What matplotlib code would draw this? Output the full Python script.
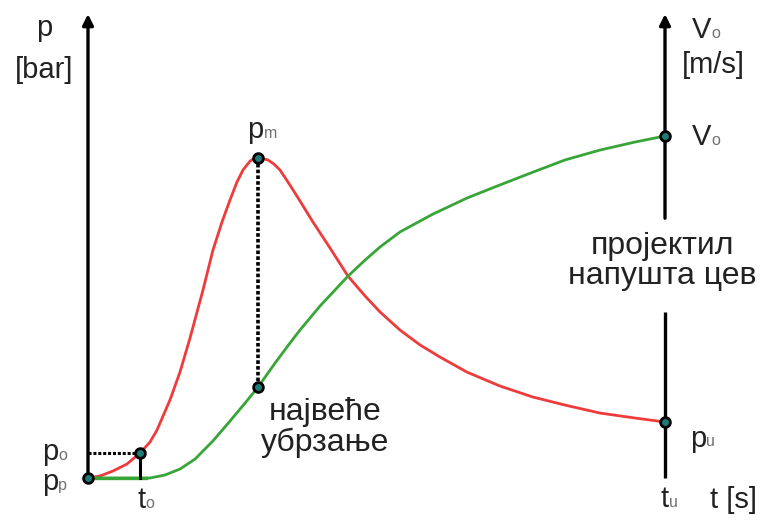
import numpy as np
import matplotlib
matplotlib.use("Agg")
import matplotlib.pyplot as plt

plt.rcParams['font.family'] = ['Liberation Sans', 'DejaVu Sans']

# time axis: 0 = ignition, 100 = projectile leaves the barrel
t_red = [0, 2.08, 4.33, 6.76, 9.01, 10.75, 11.96, 14.21, 15.94, 17.68, 19.93, 21.66,
         23.22, 24.61, 25.82, 26.86, 28.08, 28.77, 29.46, 30.33, 31.2, 32.24, 33.28,
         34.66, 36.22, 38.99, 41.94, 45.06, 48.01, 50.61, 54.07, 57.54, 61.01, 65.68,
         71.40, 77.12, 82.67, 88.73, 94.8, 100]
p_red = [0, 0.63, 2.19, 4.38, 7.81, 11.25, 15.0, 24.4, 33.1, 43.75, 58.75, 71.25,
         80.0, 86.9, 92.5, 96.25, 99.06, 99.8, 100, 99.8, 99.4, 98.1, 96.25,
         92.5, 88.1, 80.0, 71.9, 63.1, 56.9, 51.9, 46.25, 41.6, 37.8, 33.1,
         28.75, 25.3, 22.8, 20.3, 18.75, 17.5]

t_green = [0, 10.75, 13.34, 15.94, 18.54, 21.66, 24.61, 27.21, 29.46, 32.41, 35.01,
           36.74, 40.21, 45.06, 48.01, 50.61, 54.07, 59.79, 65.68, 71.40, 77.12,
           82.67, 88.73, 94.8, 100]
v_green = [0, 0, 0.94, 2.8, 5.9, 11.6, 17.8, 23.4, 28.4, 35.9, 42.2,
           46.25, 53.75, 63.1, 68.1, 72.2, 76.9, 82.5, 87.5, 91.6, 95.6,
           99.4, 102.5, 105.0, 106.9]

# characteristic points
t_o, p_o = 9.01, 7.81
t_m, p_m = 29.46, 100
v_m = 28.4
t_u, p_u = 100, 17.5
v_o = 106.9

fig = plt.figure(figsize=(7.77, 5.23), dpi=100)
ax = fig.add_axes([0, 0, 1, 1])
ax.set_xlim(-15.25, 119.41)
ax.set_ylim(-14.06, 149.4)
ax.axis('off')

arrow = dict(arrowstyle='-|>', lw=2.4, color='black', mutation_scale=16, shrinkA=0, shrinkB=0)
ax.annotate('', xy=(0, 145), xytext=(0, 0), arrowprops=arrow)
ax.annotate('', xy=(119.6, 0), xytext=(0, 0), arrowprops=arrow)
ax.plot([t_u, t_u], [0, 51.9], color='black', lw=2.4, solid_capstyle='butt')
ax.annotate('', xy=(t_u, 145), xytext=(t_u, 81.2), arrowprops=arrow)

ax.plot(t_red, p_red, color='#ee3b3b', lw=2.0, solid_joinstyle='round')
ax.plot(t_green, v_green, color='#37a537', lw=2.0, solid_joinstyle='round')
ax.plot([0, 10], [0, 0], color='#37a537', lw=2.4)

# helper lines
ax.plot([0, t_o], [p_o, p_o], color='black', lw=2.2, ls=(0, (1, 0.6)))
ax.plot([t_o, t_o], [0, p_o], color='black', lw=2.2)
ax.plot([t_m, t_m], [v_m, p_m], color='black', lw=2.6, ls=(0, (1, 0.6)))

px = [0, t_o, t_m, t_m, t_u, t_u]
py = [0, p_o, p_m, v_m, p_u, v_o]
ax.plot(px, py, 'o', ms=7, mfc='#1f7a7a', mec='black', mew=2, ls='none', zorder=5)

fs = 21
fs_txt = 23


def label(x, y, base, sub, ha='left'):
    t = ax.text(x, y, base, fontsize=fs, ha=ha, va='center', color='#222222')
    ax.annotate(sub, xy=(1, 0.22), xycoords=t, fontsize=fs * 0.55,
                color='#707070', ha='left', va='baseline')


ax.text(-7.6, 140.6, 'p', fontsize=fs, ha='center', va='center', color='#222222')
ax.text(-7.6, 127.5, '[bar]', fontsize=fs, ha='center', va='center', color='#222222')
label(104.6, 140.0, 'V', 'o')
ax.text(108.3, 129.0, '[m/s]', fontsize=fs, ha='center', va='center', color='#222222')
label(104.6, 106.6, 'V', 'o')
label(27.6, 108.8, 'p', 'm')
label(104.3, 12.3, 'p', 'u')
label(-8.0, 8.1, 'p', 'o')
label(-8.0, -1.3, 'p', 'p')
label(8.6, -7.0, 't', 'o')
label(99.2, -6.6, 't', 'u')
ax.text(107.8, -7.0, 't [s]', fontsize=fs, ha='left', va='center', color='#222222')

ax.text(41.1, 15.8, 'највеће\nубрзање', fontsize=fs_txt, ha='center', va='center',
        linespacing=1.0, color='#222222')
ax.text(99.6, 67.8, 'пројектил\nнапушта цев', fontsize=fs_txt, ha='center', va='center',
        linespacing=1.0, color='#222222')

fig.savefig('out.png', dpi=100)
